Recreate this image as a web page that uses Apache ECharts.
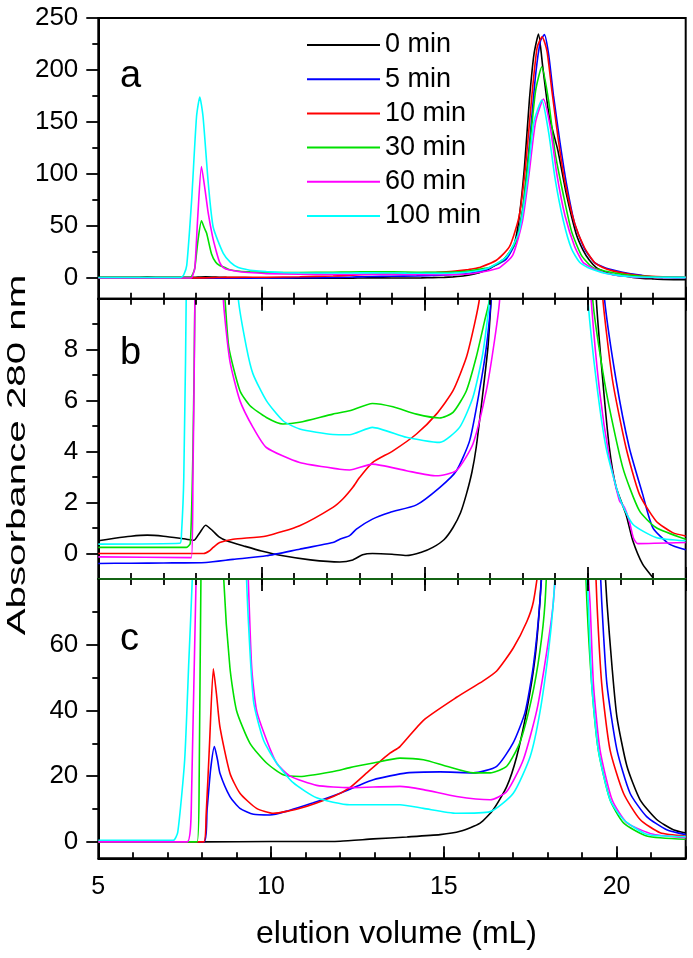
<!DOCTYPE html>
<html><head><meta charset="utf-8">
<script src="https://cdn.jsdelivr.net/npm/echarts@6/dist/echarts.min.js"></script>
<style>html,body{margin:0;padding:0;background:#fff}#c{width:693px;height:958px}</style>
</head><body><div id="c"></div>
<script>
// ---- series names / colours ----
const names = ['0 min','5 min','10 min','30 min','60 min','100 min'];
const colors = ['#000000','#0000FF','#FF0000','#00E000','#FF00FF','#00FFFF'];

// ---- tick values ----
const yTicksA = [0,50,100,150,200,250], yMinorA = [25,75,125,175,225];
const yTicksB = [0,2,4,6,8],            yMinorB = [1,3,5,7,9];
const yTicksC = [0,20,40,60],           yMinorC = [10,30,50,70];
const xTickLabels = [5,10,15,20];

// ---- panels a & b (same runs; b is a zoom of a) : [elution volume mL, absorbance] ----
const ab_0min = [[5,0.5],[5.5,0.6],[6,0.68],[6.5,0.72],[7,0.68],[7.5,0.6],[7.7,0.56],[7.93,0.52],[8.1,0.8],[8.29,1.11],[8.5,0.9],[8.7,0.65],[8.93,0.5],[9.5,0.28],[10,0.1],[10.66,-0.09],[11.5,-0.25],[12.4,-0.33],[12.8,-0.25],[13.1,-0.05],[13.4,0.0],[14.0,-0.03],[14.44,-0.08],[14.9,0.05],[15.25,0.24],[15.6,0.55],[15.87,1.02],[16.1,1.6],[16.28,2.33],[16.45,3.2],[16.58,4.16],[16.78,6.26],[16.94,8.09],[17.04,10],[17.3,15],[17.5,20],[17.75,33],[17.9,58.7],[18.06,107],[18.21,171],[18.35,215],[18.49,234.5],[18.62,203],[18.82,155],[19.08,123],[19.34,81],[19.64,42.7],[19.85,27],[20.05,17],[20.26,10],[20.46,6.78],[20.66,4.16],[20.87,2.59],[21.17,1.54],[21.38,0.5],[21.68,-0.42],[21.99,-0.94],[22.3,-1.4],[23,-1.8]];
const ab_5min = [[5,-0.39],[6,-0.38],[7,-0.37],[8.3,-0.35],[9.13,-0.23],[10.15,-0.09],[11.17,0.17],[12.19,0.43],[12.4,0.56],[12.7,0.7],[12.91,0.96],[13.4,1.35],[13.93,1.61],[14.75,1.91],[15.46,2.59],[15.97,3.24],[16.38,4.43],[16.68,6.39],[16.89,8.09],[17.04,10],[17.5,18],[17.8,35],[18.0,65],[18.2,125],[18.4,195],[18.55,228],[18.67,234],[18.8,215],[18.95,175],[19.15,130],[19.35,90],[19.6,52],[19.9,28],[20.2,15],[20.51,10],[20.87,6.78],[21.27,4.16],[21.68,2.33],[21.99,1.02],[22.5,0.37],[23,0.15]];
const ab_10min = [[5,0],[8.23,0],[8.4,0.1],[8.52,0.24],[8.72,0.43],[9.13,0.56],[10.15,0.69],[11.17,1.09],[12.19,1.81],[12.5,2.15],[12.8,2.6],[13.01,2.99],[13.4,3.57],[14.03,4.03],[14.75,4.69],[15.36,5.47],[15.87,6.39],[16.28,7.7],[16.53,9.01],[16.68,10],[17.2,17],[17.6,30],[17.9,60],[18.1,110],[18.3,180],[18.45,222],[18.6,232],[18.75,218],[18.9,180],[19.1,132],[19.3,92],[19.6,52],[19.9,29],[20.2,15],[20.46,10],[20.76,6.78],[21.17,4.16],[21.58,2.33],[22.09,1.28],[22.6,0.82],[23,0.69]];
const ab_30min = [[5,0.24],[7.7,0.24],[7.82,0.4],[7.9,4],[7.96,10],[8.05,35],[8.16,54.9],[8.25,48],[8.32,43],[8.47,23],[8.6,15],[8.72,12],[8.88,10],[9.0,8.09],[9.34,6.39],[9.65,5.8],[10.15,5.34],[10.66,5.08],[11.17,5.15],[12.19,5.47],[12.7,5.6],[13.4,5.89],[14.03,5.76],[14.75,5.47],[15.46,5.32],[15.87,5.54],[16.28,6.39],[16.58,7.7],[16.84,9.14],[16.99,10],[17.4,17],[17.8,35],[18.0,65],[18.2,120],[18.4,180],[18.59,203],[18.8,170],[19.0,120],[19.25,80],[19.5,45],[19.8,22],[20.15,10],[20.56,6.39],[21.07,3.38],[21.58,1.68],[22.09,1.02],[23,0.56]];
const ab_60min = [[5,-0.13],[7.85,-0.16],[7.9,3],[7.96,10],[8.05,60],[8.16,107],[8.27,85],[8.37,62],[8.5,40],[8.62,25],[8.72,15],[8.83,10],[9.03,7.57],[9.34,6.0],[9.74,4.95],[10.15,4.16],[11.17,3.57],[12.4,3.31],[12.7,3.28],[13.4,3.51],[14.44,3.25],[15.36,3.05],[15.97,3.25],[16.48,4.3],[16.89,6.39],[17.14,8.35],[17.3,10],[17.7,22],[18.0,55],[18.2,100],[18.4,150],[18.64,172],[18.85,145],[19.05,100],[19.3,60],[19.6,30],[19.85,15],[20.1,10],[20.36,6.39],[20.66,3.77],[20.97,2.07],[21.12,1.81],[21.27,1.28],[21.4,0.6],[21.53,0.39],[23,0.43]];
const ab_100min = [[5,0.37],[7.5,0.4],[7.55,0.8],[7.62,3],[7.71,12],[7.86,74.8],[8.01,155],[8.11,174],[8.21,155],[8.37,91],[8.52,49],[8.83,23.6],[9.05,15],[9.29,10],[9.54,8.09],[9.74,7.05],[10.15,6.0],[10.66,5.21],[11.17,4.89],[12.19,4.67],[12.7,4.66],[13.4,4.95],[14.44,4.56],[15.46,4.36],[16.07,4.95],[16.48,6.13],[16.78,7.83],[16.99,10],[17.5,20],[17.9,45],[18.15,95],[18.35,150],[18.59,171],[18.8,140],[19.0,95],[19.25,55],[19.5,28],[19.75,15],[20.0,10],[20.26,6.78],[20.56,4.16],[20.97,2.2],[21.38,1.15],[22.09,0.63],[23,0.5]];

// ---- panel c ----
const c_0min = [[5,0],[8,0],[10,0.1],[11,0.1],[12.0,0.2],[12.96,0.9],[13.93,1.5],[14.89,2.2],[15.47,3.2],[16.05,5.7],[16.43,9.8],[16.82,16.8],[17.11,26],[17.4,40],[17.64,56],[17.78,73],[17.9,95],[18.4,190],[18.9,190],[19.5,110],[19.72,73],[19.87,53],[20.01,38],[20.3,23],[20.68,12.8],[21.16,6.8],[21.64,3.7],[22,2.7]];
const c_5min = [[5,0],[8.05,0],[8.15,10],[8.25,22],[8.36,29],[8.45,25],[8.52,20.9],[8.81,13.8],[9.1,10.2],[9.49,8.4],[9.97,8.2],[10.5,9.5],[11.2,11.8],[12.0,14.8],[12.96,18.9],[13.93,21],[14.89,21.3],[15.85,21],[16.53,23],[17.01,30.2],[17.35,39.4],[17.59,53.5],[17.78,73],[17.9,95],[18.3,190],[18.9,190],[19.45,100],[19.57,73],[19.72,48],[20.01,28],[20.39,14.8],[20.87,7.7],[21.45,3.7],[22,2.2]];
const c_10min = [[5,0],[8.05,0],[8.12,8],[8.22,30],[8.33,52.7],[8.42,45],[8.52,35],[8.81,20.9],[9.1,14.8],[9.58,10.2],[10.07,8.7],[10.84,10.2],[11.8,13.8],[12.28,16.5],[12.77,21],[13.44,27],[13.73,29],[14.41,37],[15.37,44],[16.14,49],[16.53,52],[17.01,59],[17.4,67],[17.59,73],[17.75,85],[18.2,190],[18.9,190],[19.35,95],[19.43,73],[19.57,48],[19.81,28],[20.2,14.8],[20.68,6.8],[21.26,2.8],[22,1.8]];
const c_30min = [[5,0],[7.86,0],[7.92,20],[7.97,80],[8.1,150],[8.4,150],[8.63,80],[8.81,53],[9.0,40],[9.39,30],[9.87,24],[10.35,20.4],[10.84,19.9],[11.8,21.4],[12.28,22.6],[12.96,24],[13.73,25.5],[14.41,25],[15.08,23],[15.85,21],[16.34,21],[16.82,23],[17.2,30.2],[17.54,43.6],[17.78,58],[17.93,73],[18.1,110],[18.6,190],[19.0,110],[19.14,73],[19.28,48],[19.47,28],[19.81,12.8],[20.2,5.8],[20.87,1.8],[22,0.8]];
const c_60min = [[5,0],[7.57,0],[7.7,15],[7.83,80],[8.3,200],[8.9,200],[9.34,80],[9.44,53],[9.58,40],[9.87,31],[10.16,24],[10.55,20],[11.32,17.2],[12.28,16.5],[12.96,16.7],[13.73,16.9],[14.41,15.9],[15.37,13.8],[16.34,12.8],[16.82,15.3],[17.3,25],[17.69,40],[17.98,58],[18.17,73],[18.4,110],[18.7,170],[19.0,110],[19.23,73],[19.33,48],[19.52,28],[19.87,12.8],[20.3,5.8],[21.06,2.3],[22,1.3]];
const c_100min = [[5,0.5],[7.17,0.5],[7.3,3],[7.5,25],[7.62,55],[7.72,80],[8.2,250],[8.8,250],[9.29,80],[9.49,43],[9.78,31],[10.16,24],[10.64,18],[11.32,13.4],[12.28,11.3],[12.96,11.3],[13.73,11.3],[14.41,10.2],[15.37,8.7],[16.34,9.2],[17.01,14.8],[17.5,26],[17.78,39.4],[18.03,58],[18.17,73],[18.4,110],[18.7,170],[19.0,110],[19.18,73],[19.28,48],[19.47,28],[19.81,12.8],[20.2,6.8],[20.87,2.3],[22,1.6]];

const abRuns = [ab_0min, ab_5min, ab_10min, ab_30min, ab_60min, ab_100min];
const cRuns = [c_0min, c_5min, c_10min, c_30min, c_60min, c_100min];

// ---- build chart ----
const FONT = '"Liberation Sans", Arial, Helvetica, sans-serif';
const L = 98.3, R = 7.3;
const grids = [
  {left:L, right:R, top:18, height:280.7},
  {left:L, right:R, top:298.7, height:280.3},
  {left:L, right:R, top:579, height:279.3}
].map(g => Object.assign(g, {show:true, borderColor:'#000', borderWidth:2, backgroundColor:'transparent', containLabel:false, outerBoundsMode:'none'}));

function xAx(gi, pos, max, interval, len, opts) {
  opts = opts || {};
  return Object.assign({
    type:'value', gridIndex:gi, position:pos, min:5, max:max, interval:interval,
    axisLine:{show:!!opts.line, onZero:false, lineStyle:{color:opts.lineColor||'#000', width:2}},
    axisTick:{show:true, inside:true, length:len, lineStyle:{color:'#000', width:1.8}},
    axisLabel:{show:false}, splitLine:{show:false}, z: opts.z || 3
  }, opts.extra || {});
}
function yAx(gi, min, max, ticks, len, labels) {
  return {
    type:'value', gridIndex:gi, position:'left', min:min, max:max,
    axisLine:{show:!!labels, onZero:false, lineStyle:{color:'#000', width:2}},
    axisTick:{show:true, inside:false, length:len, customValues:ticks, lineStyle:{color:'#000', width:1.8}},
    axisLabel: labels ? {show:true, customValues:labels, fontSize:26, fontFamily:FONT, color:'#000', margin:20} : {show:false},
    splitLine:{show:false}
  };
}

const xAxes = [
  xAx(0,'bottom',23,5,12,{line:true}),      // 0
  xAx(0,'bottom',23,1,6),                   // 1
  xAx(1,'top',23,5,12,{line:true}),         // 2
  xAx(1,'top',23,1,6),                      // 3
  xAx(1,'bottom',23,5,12,{line:true}),      // 4
  xAx(1,'bottom',23,1,6),                   // 5
  xAx(2,'top',23,5,12,{line:true, lineColor:'#146414', z:6}), // 6
  xAx(2,'top',23,1,6),                      // 7
  xAx(2,'bottom',22,5,12,{line:true, extra:{axisLabel:{show:true, customValues:xTickLabels, fontSize:25, fontFamily:FONT, color:'#000', margin:16}}}), // 8
  xAx(2,'bottom',22,1,6)                    // 9
];
const yAxes = [
  yAx(0,-20,250,yTicksA,12,yTicksA), yAx(0,-20,250,yMinorA,6,null),
  yAx(1,-1,10,yTicksB,12,yTicksB),   yAx(1,-1,10,yMinorB,6,null),
  yAx(2,-5,80,yTicksC,12,yTicksC),   yAx(2,-5,80,yMinorC,6,null)
];

const series = [];
function mk(data, i, xi, yi) {
  return {type:'line', name:names[i], data:data, xAxisIndex:xi, yAxisIndex:yi, showSymbol:false, symbol:'none',
    smooth:0.2,
    lineStyle:{color:colors[i], width:1.6}, itemStyle:{color:colors[i]}, clip:true, silent:true, z:2};
}
abRuns.forEach((d,i) => series.push(mk(d,i,0,0)));
abRuns.forEach((d,i) => series.push(mk(d,i,4,2)));
cRuns.forEach((d,i) => series.push(mk(d,i,8,4)));

const chart = echarts.init(document.getElementById('c'), null, {renderer:'canvas'});
chart.setOption({
  animation:false,
  backgroundColor:'#fff',
  grid: grids,
  xAxis: xAxes,
  yAxis: yAxes,
  legend: {
    orient:'vertical', left:307, top:31, padding:0, itemWidth:73, itemHeight:2, itemGap:6.2,
    icon:'rect', selectedMode:false, data:names,
    textStyle:{fontSize:27, fontFamily:FONT, color:'#000', lineHeight:28}
  },
  graphic: [
    {type:'text', x:120, y:76.7, style:{text:'a', font:'38px ' + FONT, fill:'#000', textAlign:'left', textVerticalAlign:'middle'}},
    {type:'text', x:120, y:353.7, style:{text:'b', font:'38px ' + FONT, fill:'#000', textAlign:'left', textVerticalAlign:'middle'}},
    {type:'text', x:120, y:639.7, style:{text:'c', font:'38px ' + FONT, fill:'#000', textAlign:'left', textVerticalAlign:'middle'}},
    {type:'text', x:396.5, y:933.8, style:{text:'elution volume (mL)', font:'32px ' + FONT, fill:'#000', textAlign:'center', textVerticalAlign:'middle'}},
    {type:'text', x:18, y:455, rotation:Math.PI/2, scaleX:1.55, scaleY:1, style:{text:'Absorbance 280 nm', font:'26px ' + FONT, fill:'#000', textAlign:'center', textVerticalAlign:'middle'}}
  ],
  series: series
});
</script>
</body></html>
